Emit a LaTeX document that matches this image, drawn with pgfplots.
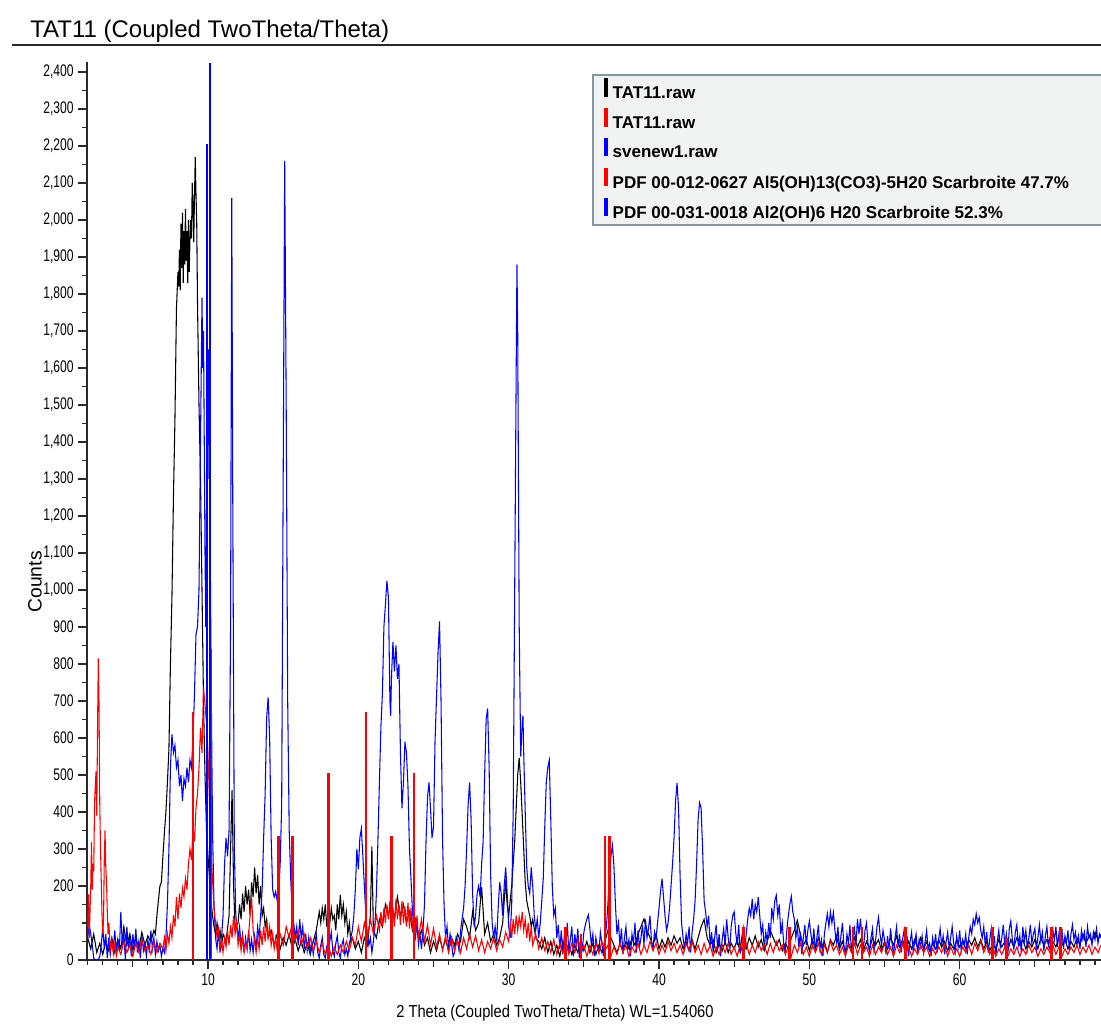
\documentclass[border=0pt]{standalone}
\usepackage{fontspec}
\setmainfont{Liberation Sans}
\newfontfamily\narrowfont[FakeStretch=0.72]{Liberation Sans}
\newfontfamily\xlabfont[FakeStretch=0.85]{Liberation Sans}
\usepackage{pgfplots}
\usepackage{pgfplotstable}
\pgfplotsset{compat=1.18}
\definecolor{legfill}{HTML}{F1F3F3}
\definecolor{legdraw}{HTML}{8595A1}
\definecolor{axgray}{HTML}{2A2A2A}
\definecolor{xrdblue}{HTML}{0000FF}
\definecolor{xrdred}{HTML}{FF0000}

% TAT11.raw (black)
\pgfplotstableread{
x y
2.0 60
2.2 30
2.4 70
2.6 20
2.8 45
3.0 15
3.2 50
3.4 25
3.6 60
3.8 20
4.0 55
4.2 30
4.4 90
4.6 40
4.8 70
5.0 25
5.2 60
5.4 30
5.6 75
5.8 40
6.0 65
6.2 50
6.4 80
6.5 70
6.6 120
6.7 160
6.8 200
6.9 210
7.0 280
7.1 345
7.2 400
7.3 480
7.4 570
7.5 800
7.6 980
7.7 1250
7.8 1460
7.9 1760
8.0 1860
8.05 1820
8.1 1920
8.15 1810
8.2 1990
8.25 1870
8.3 2020
8.35 1830
8.4 1970
8.45 1880
8.5 2030
8.55 1890
8.6 1970
8.65 1830
8.7 2000
8.75 1860
8.8 1950
8.85 2000
8.9 1950
8.95 2100
9.0 2050
9.05 1940
9.1 2060
9.15 2170
9.2 2070
9.25 1990
9.3 1780
9.4 1500
9.5 1300
9.6 1000
9.7 700
9.8 500
9.9 350
10.0 280
10.1 220
10.2 160
10.3 120
10.4 90
10.5 70
10.6 100
10.7 60
10.8 80
10.9 40
11.0 70
11.2 50
11.4 120
11.5 300
11.6 460
11.7 200
11.8 90
12.0 100
12.1 150
12.2 110
12.3 180
12.4 130
12.5 200
12.6 150
12.7 190
12.8 120
12.9 210
13.0 170
13.1 250
13.2 180
13.3 230
13.4 150
13.5 200
13.6 120
13.7 140
13.8 90
13.9 110
14.0 60
14.2 80
14.4 40
14.6 70
14.8 30
15.0 60
15.2 40
15.4 70
15.6 30
15.8 55
16.0 25
16.2 50
16.4 20
16.6 45
16.8 15
17.0 50
17.2 80
17.4 130
17.5 100
17.6 140
17.7 110
17.8 150
17.9 90
18.0 130
18.1 100
18.2 140
18.3 110
18.4 120
18.5 80
18.6 150
18.7 110
18.8 176
18.9 120
19.0 150
19.1 100
19.2 130
19.3 70
19.4 100
19.5 50
19.6 60
19.8 30
20.0 50
20.2 20
20.4 60
20.6 40
20.8 120
20.9 307
21.0 80
21.2 60
21.4 110
21.6 90
21.8 150
22.0 120
22.2 160
22.4 110
22.6 170
22.8 120
23.0 150
23.2 100
23.4 130
23.6 80
23.8 110
24.0 60
24.2 80
24.4 40
24.6 60
24.8 20
25.0 50
25.2 25
25.4 60
25.6 30
25.8 55
26.0 25
26.2 60
26.4 40
26.6 70
26.8 50
27.0 110
27.2 90
27.4 60
27.6 130
27.8 80
28.0 100
28.2 197
28.4 70
28.6 100
28.8 50
29.0 70
29.2 40
29.4 60
29.6 100
29.8 215
29.9 150
30.0 120
30.2 200
30.4 320
30.6 500
30.7 546
30.8 480
30.9 392
31.0 300
31.1 211
31.2 160
31.3 139
31.4 120
31.5 90
31.6 110
31.8 60
32.0 50
32.2 30
32.4 60
32.6 20
32.8 50
33.0 15
33.2 40
33.4 10
33.6 50
33.8 20
34.0 45
34.2 15
34.4 40
34.6 20
34.8 55
35.0 25
35.2 50
35.4 20
35.6 45
35.8 15
36.0 40
36.2 20
36.4 50
36.6 80
36.8 60
37.0 40
37.2 20
37.4 45
37.6 25
37.8 50
38.0 30
38.2 60
38.4 40
38.6 70
38.8 90
39.0 111
39.2 80
39.4 60
39.6 40
39.8 70
40.0 30
40.2 55
40.4 35
40.6 60
40.8 40
41.0 65
41.2 45
41.4 60
41.6 30
41.8 50
42.0 25
42.2 55
42.4 30
42.6 60
42.8 90
43.0 110
43.2 60
43.4 40
43.6 55
43.8 20
44.0 45
44.2 25
44.4 50
44.6 20
44.8 45
45.0 30
45.2 55
45.4 20
45.6 45
45.8 30
46.0 60
46.2 40
46.4 65
46.6 35
46.8 55
47.0 25
47.2 50
47.4 80
47.6 60
47.8 40
48.0 55
48.2 25
48.4 45
48.6 30
48.8 60
49.0 80
49.2 107
49.4 70
49.6 40
49.8 55
50.0 25
50.2 55
50.4 30
50.6 60
50.8 35
51.0 50
51.2 20
51.4 55
51.6 40
51.8 65
52.0 30
52.2 50
52.4 20
52.6 45
52.8 30
53.0 60
53.2 35
53.4 55
53.6 25
53.8 50
54.0 30
54.2 60
54.4 40
54.6 55
54.8 25
55.0 50
55.2 30
55.4 60
55.6 40
55.8 65
56.0 35
56.2 55
56.4 25
56.6 50
56.8 30
57.0 55
57.2 35
57.4 60
57.6 30
57.8 50
58.0 25
58.2 45
58.4 30
58.6 55
58.8 35
59.0 50
59.2 25
59.4 45
59.6 30
59.8 55
60.0 35
60.2 50
60.4 30
60.6 55
60.8 40
61.0 60
61.2 35
61.4 55
61.6 30
61.8 50
62.0 25
62.2 45
62.4 30
62.6 55
62.8 35
63.0 50
63.2 25
63.4 55
63.6 35
63.8 60
64.0 40
64.2 55
64.4 30
64.6 50
64.8 35
65.0 55
65.2 30
65.4 60
65.6 40
65.8 55
66.0 30
66.2 50
66.4 35
66.6 60
66.8 40
67.0 55
67.2 30
67.4 50
67.6 35
67.8 60
68.0 40
68.2 70
68.4 45
68.6 65
68.8 50
69.0 75
69.2 55
69.4 70
}\blackdata

% svenew1.raw (blue)
\pgfplotstableread{
x y
2.0 60
2.1 95
2.2 70
2.3 40
2.4 5
2.5 0
2.6 0
2.7 0
2.8 10
2.9 40
3.0 90
3.1 30
3.2 70
3.3 5
3.4 60
3.5 15
3.6 50
3.7 35
3.8 80
3.9 20
4.0 55
4.1 25
4.2 130
4.3 40
4.4 75
4.5 0
4.6 90
4.7 35
4.8 60
4.9 10
5.0 70
5.1 30
5.2 85
5.3 20
5.4 50
5.5 5
5.6 65
5.7 25
5.8 45
5.9 10
6.0 55
6.1 20
6.2 80
6.3 30
6.4 60
6.5 15
6.6 50
6.7 25
6.8 40
6.9 10
7.0 30
7.1 20
7.2 60
7.3 150
7.4 300
7.5 520
7.6 610
7.7 560
7.8 580
7.9 520
8.0 540
8.1 470
8.2 500
8.3 430
8.4 490
8.5 470
8.6 520
8.7 480
8.8 540
8.9 520
9.0 600
9.1 720
9.2 880
9.3 900
9.4 1000
9.5 1400
9.6 1790
9.65 1600
9.7 1700
9.8 1100
9.85 900
9.9 1200
9.95 1400
10.0 1300
10.05 1650
10.1 1500
10.15 1100
10.2 800
10.3 350
10.4 150
10.5 60
10.6 30
10.7 80
10.8 20
10.9 60
11.0 120
11.1 260
11.2 330
11.3 280
11.4 350
11.5 900
11.58 2060
11.65 1200
11.75 300
11.85 120
12.0 60
12.1 90
12.2 40
12.3 70
12.4 20
12.5 60
12.6 30
12.7 80
12.8 25
12.9 55
13.0 20
13.1 65
13.2 30
13.3 90
13.4 60
13.5 120
13.6 190
13.7 330
13.8 450
13.9 655
14.0 710
14.1 600
14.2 330
14.3 190
14.4 170
14.5 185
14.6 160
14.7 180
14.8 260
14.9 420
15.0 1300
15.1 2160
15.2 1500
15.3 700
15.4 350
15.5 220
15.6 130
15.7 100
15.8 60
15.9 90
16.0 40
16.1 110
16.2 60
16.3 90
16.4 30
16.5 70
16.6 25
16.7 60
16.8 20
16.9 50
17.0 15
17.1 45
17.2 70
17.3 20
17.4 5
17.5 40
17.6 60
17.7 15
17.8 5
17.9 35
18.0 20
18.1 50
18.2 75
18.3 25
18.4 10
18.5 45
18.6 65
18.7 20
18.8 5
18.9 40
19.0 55
19.1 15
19.2 30
19.3 10
19.4 45
19.5 60
19.6 80
19.7 120
19.8 190
19.9 300
20.0 245
20.1 330
20.2 355
20.3 280
20.4 200
20.5 120
20.6 70
20.7 40
20.8 60
20.9 20
21.0 50
21.1 90
21.2 180
21.3 320
21.4 480
21.5 630
21.6 720
21.7 900
21.8 960
21.9 1025
22.0 980
22.1 700
22.15 660
22.2 760
22.3 860
22.4 780
22.5 850
22.6 760
22.7 800
22.8 560
22.9 410
23.0 480
23.1 590
23.2 560
23.3 470
23.4 300
23.5 220
23.6 130
23.7 80
23.8 60
23.9 100
24.0 40
24.1 70
24.2 30
24.3 80
24.4 150
24.5 320
24.6 440
24.7 480
24.8 410
24.9 330
25.0 360
25.1 590
25.3 830
25.4 915
25.5 700
25.6 330
25.7 150
25.8 60
25.9 90
26.0 30
26.1 70
26.2 45
26.3 10
26.4 20
26.5 60
26.6 50
26.7 25
26.8 80
26.9 110
27.0 140
27.1 200
27.2 300
27.3 420
27.4 480
27.5 380
27.6 180
27.7 90
27.8 120
27.9 180
28.0 200
28.1 170
28.2 260
28.3 320
28.4 500
28.5 650
28.6 680
28.7 520
28.8 230
28.9 100
29.0 60
29.1 90
29.2 50
29.3 140
29.4 210
29.5 180
29.6 120
29.7 200
29.8 250
29.9 180
30.0 90
30.1 60
30.2 150
30.3 400
30.4 1000
30.5 1600
30.55 1880
30.6 1700
30.7 900
30.8 550
30.9 640
30.95 660
31.0 560
31.1 400
31.2 250
31.3 200
31.4 180
31.5 250
31.6 200
31.7 120
31.8 80
31.9 110
32.0 60
32.1 100
32.2 160
32.3 220
32.4 360
32.5 480
32.6 520
32.7 540
32.8 380
32.9 200
33.0 120
33.1 140
33.2 60
33.3 95
33.4 30
33.5 80
33.6 15
33.7 65
33.8 40
33.9 100
34.0 20
34.1 55
34.2 90
34.3 10
34.4 70
34.5 35
34.6 85
34.7 5
34.8 50
34.9 30
35.0 75
35.1 95
35.2 110
35.3 122
35.4 85
35.5 40
35.6 70
35.7 10
35.8 60
35.9 35
36.0 20
36.1 75
36.2 45
36.3 10
36.4 60
36.5 90
36.6 150
36.7 240
36.8 280
36.9 310
37.0 255
37.1 150
37.2 70
37.3 100
37.4 40
37.5 85
37.6 15
37.7 60
37.8 90
37.9 30
38.0 55
38.1 10
38.2 70
38.3 45
38.4 100
38.5 20
38.6 80
38.7 35
38.8 60
38.9 95
39.0 40
39.1 110
39.2 60
39.3 85
39.4 120
39.5 50
39.6 30
39.7 75
39.8 55
39.9 100
40.0 140
40.1 185
40.2 220
40.3 170
40.4 120
40.5 80
40.6 100
40.7 140
40.8 200
40.9 260
41.0 330
41.1 430
41.2 478
41.3 410
41.4 230
41.5 100
41.6 60
41.7 30
41.8 70
41.9 45
42.0 90
42.1 20
42.2 75
42.3 110
42.4 160
42.5 260
42.6 380
42.7 425
42.8 410
42.9 300
43.0 160
43.1 130
43.2 90
43.3 120
43.4 40
43.5 75
43.6 20
43.7 60
43.8 95
43.9 30
44.0 70
44.1 10
44.2 55
44.3 85
44.4 40
44.5 110
44.6 60
44.7 25
44.8 90
44.9 120
45.0 130
45.1 75
45.2 40
45.3 95
45.4 20
45.5 60
45.6 85
45.7 30
45.8 70
45.9 110
46.0 140
46.1 120
46.2 165
46.3 110
46.4 150
46.5 130
46.6 170
46.7 120
46.8 70
46.9 95
47.0 30
47.1 75
47.2 50
47.3 100
47.4 60
47.5 140
47.6 110
47.7 160
47.8 175
47.9 120
48.0 150
48.1 70
48.2 100
48.3 40
48.4 20
48.5 80
48.6 120
48.7 150
48.8 172
48.9 130
49.0 110
49.1 60
49.2 90
49.3 35
49.4 75
49.5 15
49.6 60
49.7 95
49.8 40
49.9 80
50.0 105
50.1 70
50.2 40
50.3 85
50.4 20
50.5 60
50.6 95
50.7 30
50.8 55
50.9 10
51.0 70
51.1 100
51.2 125
51.3 90
51.4 130
51.5 100
51.6 128
51.7 80
51.8 50
51.9 90
52.0 25
52.1 65
52.2 100
52.3 40
52.4 15
52.5 70
52.6 45
52.7 95
52.8 20
52.9 60
53.0 85
53.1 40
53.2 110
53.3 70
53.4 112
53.5 55
53.6 30
53.7 80
53.8 100
53.9 45
54.0 20
54.1 60
54.2 85
54.3 25
54.4 50
54.5 90
54.6 115
54.7 70
54.8 40
54.9 80
55.0 55
55.1 15
55.2 65
55.3 30
55.4 85
55.5 45
55.6 10
55.7 60
55.8 90
55.9 35
56.0 70
56.1 20
56.2 55
56.3 80
56.4 30
56.5 65
56.6 10
56.7 50
56.8 75
56.9 25
57.0 45
57.1 70
57.2 15
57.3 55
57.4 35
57.5 65
57.6 20
57.7 50
57.8 80
57.9 30
58.0 45
58.1 10
58.2 60
58.3 35
58.4 70
58.5 20
58.6 55
58.7 85
58.8 40
58.9 65
59.0 15
59.1 50
59.2 75
59.3 30
59.4 60
59.5 90
59.6 45
59.7 20
59.8 65
59.9 35
60.0 80
60.1 25
60.2 55
60.3 40
60.4 70
60.5 15
60.6 60
60.7 90
60.8 70
60.9 110
61.0 95
61.1 125
61.2 100
61.3 115
61.4 80
61.5 60
61.6 90
61.7 40
61.8 75
61.9 20
62.0 55
62.1 85
62.2 30
62.3 65
62.4 10
62.5 50
62.6 80
62.7 35
62.8 60
62.9 95
63.0 40
63.1 70
63.2 20
63.3 85
63.4 105
63.5 55
63.6 30
63.7 75
63.8 95
63.9 40
64.0 65
64.1 20
64.2 90
64.3 50
64.4 80
64.5 30
64.6 60
64.7 95
64.8 45
64.9 70
65.0 85
65.1 30
65.2 60
65.3 95
65.4 50
65.5 75
65.6 25
65.7 65
65.8 90
65.9 40
66.0 60
66.1 15
66.2 80
66.3 55
66.4 90
66.5 35
66.6 70
66.7 50
66.8 85
66.9 30
67.0 65
67.1 45
67.2 80
67.3 25
67.4 70
67.5 95
67.6 55
67.7 75
67.8 40
67.9 65
68.0 30
68.1 80
68.2 55
68.3 75
68.4 35
68.5 90
68.6 60
68.7 70
68.8 40
68.9 75
69.0 55
69.1 85
69.2 45
69.3 70
69.4 60
}\bluedata

% TAT11.raw (red)
\pgfplotstableread{
x y
2.0 90
2.05 177
2.1 60
2.15 130
2.2 200
2.25 318
2.3 190
2.35 260
2.4 240
2.45 420
2.5 470
2.55 510
2.6 390
2.65 620
2.7 815
2.75 690
2.8 420
2.85 300
2.9 210
2.95 120
3.0 70
3.05 110
3.1 270
3.15 350
3.2 250
3.25 209
3.3 130
3.35 70
3.4 100
3.5 30
3.6 55
3.7 15
3.8 45
3.9 10
4.0 35
4.2 15
4.4 50
4.6 20
4.8 40
5.0 10
5.2 45
5.4 20
5.6 55
5.8 25
6.0 40
6.2 15
6.4 50
6.6 20
6.8 45
7.0 30
7.1 60
7.2 25
7.3 70
7.4 45
7.5 90
7.6 60
7.7 121
7.8 90
7.9 170
8.0 110
8.1 180
8.2 140
8.3 194
8.4 170
8.5 221
8.6 190
8.7 260
8.8 300
8.9 270
9.0 357
9.1 320
9.2 410
9.3 448
9.4 520
9.5 628
9.6 560
9.7 737
9.8 690
9.9 640
10.0 560
10.1 420
10.2 300
10.3 217
10.4 140
10.5 100
10.6 60
10.7 85
10.8 30
10.9 55
11.0 20
11.1 60
11.2 35
11.3 80
11.4 40
11.5 95
11.6 60
11.7 120
11.8 70
11.9 100
12.0 40
12.1 70
12.2 25
12.3 60
12.4 20
12.5 50
12.6 30
12.7 70
12.8 120
12.9 170
13.0 80
13.1 50
13.2 20
13.3 60
13.4 30
13.5 80
13.6 40
13.7 90
13.8 50
13.9 100
14.0 60
14.1 90
14.2 40
14.3 70
14.4 30
14.5 60
14.6 25
14.8 70
15.0 40
15.2 90
15.4 60
15.6 100
15.8 50
16.0 80
16.2 40
16.4 70
16.6 30
16.8 60
17.0 25
17.2 50
17.4 20
17.6 45
17.8 15
18.0 40
18.2 10
18.4 35
18.6 15
18.8 40
19.0 20
19.2 50
19.4 25
19.6 60
19.8 40
20.0 90
20.2 50
20.4 100
20.6 60
20.8 110
21.0 70
21.2 120
21.4 80
21.5 130
21.6 90
21.7 140
21.8 100
21.9 150
22.0 110
22.1 160
22.2 100
22.3 140
22.4 90
22.5 165
22.6 110
22.7 150
22.8 95
22.9 160
23.0 100
23.1 145
23.2 90
23.3 155
23.4 85
23.5 140
23.6 80
23.7 130
23.8 75
23.9 120
24.0 60
24.2 110
24.4 50
24.6 95
24.8 40
25.0 85
25.2 35
25.4 70
25.6 25
25.8 65
26.0 20
26.2 60
26.4 25
26.6 55
26.8 20
27.0 60
27.2 30
27.4 70
27.6 35
27.8 65
28.0 25
28.2 55
28.4 20
28.6 50
28.8 30
29.0 60
29.2 25
29.4 55
29.6 35
29.8 75
30.0 50
30.1 95
30.2 60
30.3 110
30.4 70
30.5 120
30.6 80
30.7 116
30.8 90
30.9 130
31.0 80
31.1 110
31.2 60
31.3 100
31.4 50
31.5 90
31.6 40
31.8 70
32.0 30
32.2 60
32.4 25
32.6 50
32.8 20
33.0 55
33.2 15
33.4 45
33.6 20
33.8 50
34.0 15
34.2 45
34.4 20
34.6 55
34.8 25
35.0 40
35.2 10
35.4 40
35.6 15
35.8 45
36.0 20
36.2 50
36.4 25
36.6 40
36.8 10
37.0 35
37.2 15
37.4 45
37.6 20
37.8 40
38.0 10
38.2 35
38.4 20
38.6 45
38.8 15
39.0 40
39.2 20
39.4 50
39.6 25
39.8 45
40.0 15
40.2 40
40.4 20
40.6 50
40.8 25
41.0 45
41.2 20
41.4 40
41.6 15
41.8 45
42.0 25
42.2 50
42.4 20
42.6 40
42.8 15
43.0 45
43.2 20
43.4 40
43.6 10
43.8 35
44.0 15
44.2 40
44.4 20
44.6 45
44.8 15
45.0 35
45.2 10
45.4 40
45.6 20
45.8 45
46.0 15
46.2 40
46.4 20
46.6 50
46.8 25
47.0 40
47.2 15
47.4 45
47.6 20
47.8 50
48.0 25
48.2 40
48.4 15
48.6 35
48.8 10
49.0 40
49.2 20
49.4 45
49.6 15
49.8 35
50.0 10
50.2 40
50.4 20
50.6 45
50.8 15
51.0 40
51.2 20
51.4 50
51.6 25
51.8 40
52.0 15
52.2 35
52.4 10
52.6 40
52.8 20
53.0 45
53.2 15
53.4 40
53.6 20
53.8 35
54.0 10
54.2 40
54.4 15
54.6 35
54.8 20
55.0 45
55.2 15
55.4 35
55.6 10
55.8 40
56.0 20
56.2 45
56.4 15
56.6 35
56.8 10
57.0 30
57.2 15
57.4 40
57.6 20
57.8 35
58.0 10
58.2 30
58.4 15
58.6 35
58.8 20
59.0 40
59.2 10
59.4 35
59.6 15
59.8 30
60.0 10
60.2 35
60.4 20
60.6 40
60.8 15
61.0 45
61.2 25
61.4 50
61.6 20
61.8 40
62.0 15
62.2 35
62.4 10
62.6 30
62.8 15
63.0 35
63.2 10
63.4 30
63.6 15
63.8 35
64.0 10
64.2 30
64.4 15
64.6 40
64.8 20
65.0 35
65.2 10
65.4 30
65.6 15
65.8 35
66.0 20
66.2 40
66.4 15
66.6 35
66.8 10
67.0 30
67.2 15
67.4 35
67.6 20
67.8 40
68.0 15
68.2 35
68.4 20
68.6 40
68.8 15
69.0 35
69.2 20
69.4 40
}\reddata

% PDF 00-012-0627 sticks (red)
\pgfplotstableread{
x y
9.0 670
10.2 840
14.7 335
15.6 335
18.0 505
20.5 670
22.2 335
23.7 505
33.8 88
34.8 70
36.4 335
36.7 335
45.6 88
48.7 88
52.9 88
53.5 88
56.4 88
62.2 88
63.1 60
66.1 88
66.7 88
}\redsticks

% PDF 00-031-0018 sticks (blue)
\pgfplotstableread{
x y
9.93 2205
10.12 2425
}\bluesticks

\begin{document}
\begin{tikzpicture}
\useasboundingbox (0pt,0pt) rectangle (825.75pt,772.5pt);
\clip (0pt,0pt) rectangle (825.75pt,772.5pt);
% title and rule
\node[anchor=west, inner sep=0pt, font=\fontsize{18}{21}\selectfont] at (22.5pt,749.25pt) {TAT11 (Coupled TwoTheta/Theta)};
\draw[axgray, line width=1.5pt] (9pt,738.75pt) -- (826pt,738.75pt);
% legend background
\draw[legdraw, fill=legfill, line width=1.2pt] (444.75pt,716.25pt) rectangle (840pt,603.75pt);
\begin{axis}[
  at={(65.25pt,52.5pt)}, anchor=south west,
  scale only axis, width=760.5pt, height=673.5pt,
  xmin=1.95, xmax=69.4, ymin=0, ymax=2427,
  axis x line*=bottom, axis y line*=left,
  axis line style={axgray, line width=1pt, -},
  tick align=outside,
  tick style={axgray, line width=0.9pt},
  major tick length=6.5pt, minor tick length=3.8pt,
  xtick={10,20,...,60}, minor xtick={2,...,69},
  extra x ticks={5,15,...,65}, extra x tick labels={},
  extra x tick style={major tick length=5pt},
  ytick={0,200,300,...,2400}, minor ytick={50,100,...,2400},
  ticklabel style={font=\narrowfont\fontsize{12.6}{14}\selectfont, text=black},
  /pgf/number format/1000 sep={,},
  /pgf/number format/assume math mode=true,
  xlabel={2 Theta (Coupled TwoTheta/Theta) WL=1.54060},
  xlabel style={at={(axis description cs:0.4615,-0.059)}, anchor=center, font=\xlabfont\fontsize{13}{15}\selectfont},
  ylabel={Counts},
  ylabel style={at={(axis description cs:-0.0513,0.421)}, anchor=center, font=\fontsize{14.5}{16}\selectfont},
  legend image code/.code={\draw[#1, line width=3.2pt] (0pt,-2.5pt) -- (0pt,11.5pt);},
  legend style={at={(axis description cs:0.5002,0.9855)}, anchor=north west, draw=none, fill=none,
    inner xsep=7pt, inner ysep=0.6pt, row sep=2.1pt, column sep=1.5pt,
    font=\bfseries\fontsize{12.75}{15}\selectfont},
  legend cell align=left,
  clip=true,
]
\addplot[black, line width=0.8pt, forget plot] table {\blackdata};
\addplot[xrdblue, line width=0.8pt, forget plot] table {\bluedata};
\addplot[xrdred, line width=0.8pt, forget plot] table {\reddata};
\addplot[xrdred, line width=2pt, ycomb, forget plot] table {\redsticks};
\addplot[xrdblue, line width=1.3pt, ycomb, forget plot] table {\bluesticks};
\addlegendimage{black}
\addlegendentry{TAT11.raw}
\addlegendimage{xrdred}
\addlegendentry{TAT11.raw}
\addlegendimage{xrdblue}
\addlegendentry{svenew1.raw}
\addlegendimage{xrdred}
\addlegendentry{PDF 00-012-0627 Al5(OH)13(CO3)-5H20 Scarbroite 47.7\%}
\addlegendimage{xrdblue}
\addlegendentry{PDF 00-031-0018 Al2(OH)6 H20 Scarbroite 52.3\%}
\end{axis}
\end{tikzpicture}
\end{document}
